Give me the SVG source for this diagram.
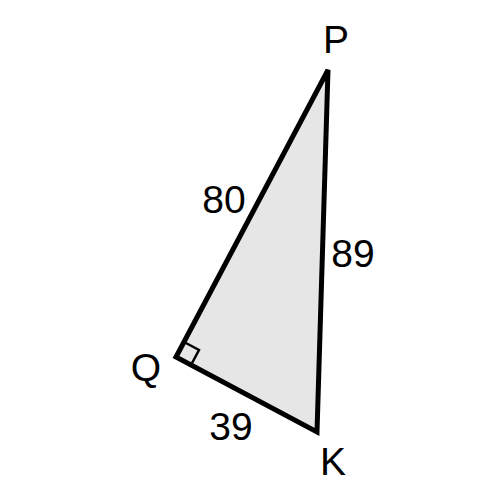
<svg xmlns="http://www.w3.org/2000/svg" width="500" height="500" viewBox="0 0 500 500">
<style>
.t{font-family:"Liberation Sans",Arial,sans-serif;font-size:39px;fill:#000;text-anchor:middle}
.s{fill:#e6e6e6;stroke:#000;stroke-width:5;stroke-linejoin:miter}
</style>
<rect width="500" height="500" fill="#fff"/>
<g id="triangle">
<polygon points="328,70 176,357 317,432" class="s"/>
<polyline points="184,342 199,350 191,365" fill="none" stroke="#000" stroke-width="2.5"/>
</g>
<g id="labels">
<text class="t" x="336" y="53">P</text>
<text class="t" x="146" y="381">Q</text>
<text class="t" x="333" y="475">K</text>
<text class="t" x="224" y="213">80</text>
<text class="t" x="353" y="267">89</text>
<text class="t" x="231" y="440">39</text>
</g>
</svg>
